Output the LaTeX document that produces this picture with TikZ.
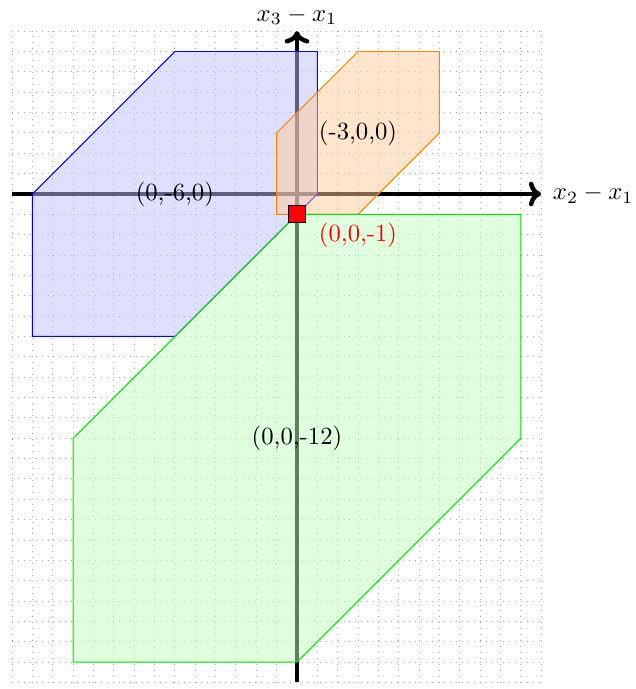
\documentclass[tikz,border=0pt]{standalone}
\usetikzlibrary{arrows.meta}
\begin{document}
\begin{tikzpicture}[x=0.29cm,y=0.29cm,
  gridline/.style={gray!70,dotted,line width=0.4pt},
  axisline/.style={line width=1.8pt,-{To[length=5pt,width=10pt]}},
  region/.style={line width=0.4pt,fill opacity=0.5},
  regionlabel/.style={inner sep=1pt}]
\useasboundingbox (-14.59,-24.32) rectangle (16.61,9.53);
\draw[gridline,step=1] (-14,-24) grid (12,8);
% axes
\coordinate (xl) at (-14,0);
\coordinate (xr) at (12,0);
\coordinate (yb) at (0,-24);
\coordinate (yt) at (0,8);
\draw[axisline] (xl) -- (xr);
\draw[axisline] (yb) -- (yt);
\node[anchor=west] (xlab) at (12.15,0) {$x_2-x_1$};
\node (ylab) at (0,8.75) {$x_3-x_1$};
% regions
\draw[region,draw=blue,fill=blue!25] (-13,0) -- (-6,7) -- (1,7) -- (1,0) -- (0,-1) -- (-6,-7) -- (-13,-7) -- cycle;
\draw[region,draw=orange,fill=orange!40] (-1,-1) -- (-1,3) -- (3,7) -- (7,7) -- (7,3) -- (3,-1) -- cycle;
\draw[region,draw=green!90!black,fill=green!25] (0,-1) -- (11,-1) -- (11,-12) -- (0,-23) -- (-11,-23) -- (-11,-12) -- cycle;
% labels
\node[regionlabel] (lb) at (-6,0) {(0,-6,0)};
\node[regionlabel] (lo) at (3,3) {(-3,0,0)};
\node[regionlabel] (lg) at (0,-12) {(0,0,-12)};
\node[draw=black,fill=red,minimum size=7pt,inner sep=0pt] (pt) at (0,-1) {};
\node[regionlabel,text=red] (lr) at (3,-2.05) {(0,0,-1)};
\end{tikzpicture}
\end{document}
